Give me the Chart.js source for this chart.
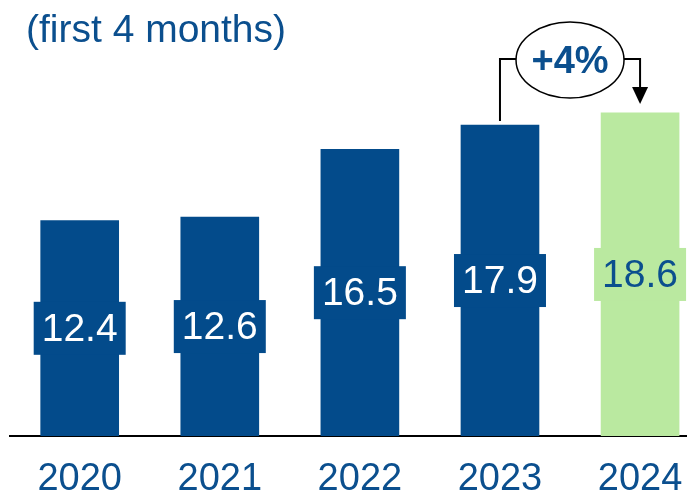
<!DOCTYPE html>
<html>
<head>
<meta charset="utf-8">
<script src="https://cdn.jsdelivr.net/npm/chart.js@4/dist/chart.umd.min.js"></script>
<style>
  html, body { margin: 0; padding: 0; background: #fff; }
  #wrap { width: 687px; height: 493px; }
</style>
</head>
<body>
<div id="wrap"><canvas id="chart"></canvas></div>
<script>
const years = ['2020', '2021', '2022', '2023', '2024'];
const values = [12.4, 12.6, 16.5, 17.9, 18.6];
const subtitle = '(first 4 months)';
const changeLabel = '+4%';

const blue = '#034b8b';
const green = '#bae9a0';
const textBlue = '#0b4f8e';
const font = '"Liberation Sans", Arial, sans-serif';

const barColors = years.map((_, i) => i === years.length - 1 ? green : blue);
const labelColors = years.map((_, i) => i === years.length - 1 ? textBlue : '#fff');

const overlay = {
  id: 'overlay',
  afterDatasetsDraw(chart) {
    const ctx = chart.ctx;
    const meta = chart.getDatasetMeta(0);
    ctx.save();

    // value boxes
    ctx.font = '39px ' + font;
    ctx.textAlign = 'center';
    ctx.textBaseline = 'middle';
    meta.data.forEach((bar, i) => {
      const cy = (bar.y + bar.base) / 2;
      const w = bar.width + 14, h = 53;
      ctx.fillStyle = barColors[i];
      ctx.fillRect(bar.x - w / 2, cy - h / 2, w, h);
      ctx.fillStyle = labelColors[i];
      ctx.fillText(values[i].toFixed(1), bar.x, cy + 2);
    });

    // bracket from 2023 to 2024
    const a = meta.data[3], b = meta.data[4];
    const lineY = 59;
    const ex = (a.x + b.x) / 2, ey = 60, rx = 54, ry = 38;
    ctx.strokeStyle = '#000';
    ctx.lineWidth = 2;
    ctx.beginPath();
    ctx.moveTo(a.x, a.y - 4);
    ctx.lineTo(a.x, lineY);
    ctx.lineTo(ex - rx, lineY);
    ctx.moveTo(ex + rx, lineY);
    ctx.lineTo(b.x, lineY);
    ctx.lineTo(b.x, b.y - 20);
    ctx.stroke();
    ctx.fillStyle = '#000';
    ctx.beginPath();
    ctx.moveTo(b.x - 8, b.y - 26);
    ctx.lineTo(b.x + 8, b.y - 26);
    ctx.lineTo(b.x, b.y - 9);
    ctx.closePath();
    ctx.fill();

    ctx.beginPath();
    ctx.ellipse(ex, ey, rx, ry, 0, 0, Math.PI * 2);
    ctx.fillStyle = '#fff';
    ctx.fill();
    ctx.lineWidth = 1.5;
    ctx.stroke();
    ctx.fillStyle = textBlue;
    ctx.font = 'bold 38px ' + font;
    ctx.fillText(changeLabel, ex, ey + 3);

    // subtitle
    ctx.textAlign = 'left';
    ctx.textBaseline = 'alphabetic';
    ctx.font = '39px ' + font;
    ctx.fillText(subtitle, 26, 42);
    ctx.restore();
  }
};

new Chart(document.getElementById('chart'), {
  type: 'bar',
  data: {
    datasets: [{
      data: values.map((v, i) => ({ x: i, y: v })),
      backgroundColor: barColors,
      barThickness: 78
    }]
  },
  options: {
    responsive: true,
    maintainAspectRatio: false,
    animation: false,
    layout: { padding: { left: 10, right: 0, top: 0, bottom: 0 } },
    plugins: { legend: { display: false }, tooltip: { enabled: false } },
    scales: {
      x: {
        type: 'linear',
        offset: false,
        min: -0.4975,
        max: 4.335,
        afterBuildTicks: axis => { axis.ticks = years.map((_, i) => ({ value: i })); },
        afterFit: axis => {
          axis.height = 57;
          axis.paddingLeft = 0;
          axis.paddingRight = 0;
        },
        grid: { display: false, drawTicks: false },
        border: { display: true, color: '#000', width: 2 },
        ticks: {
          padding: 21,
          color: textBlue,
          font: { family: font, size: 38 },
          callback: v => years[v]
        }
      },
      y: {
        display: false,
        min: 0,
        max: 25.1
      }
    }
  },
  plugins: [overlay]
});
</script>
</body>
</html>
